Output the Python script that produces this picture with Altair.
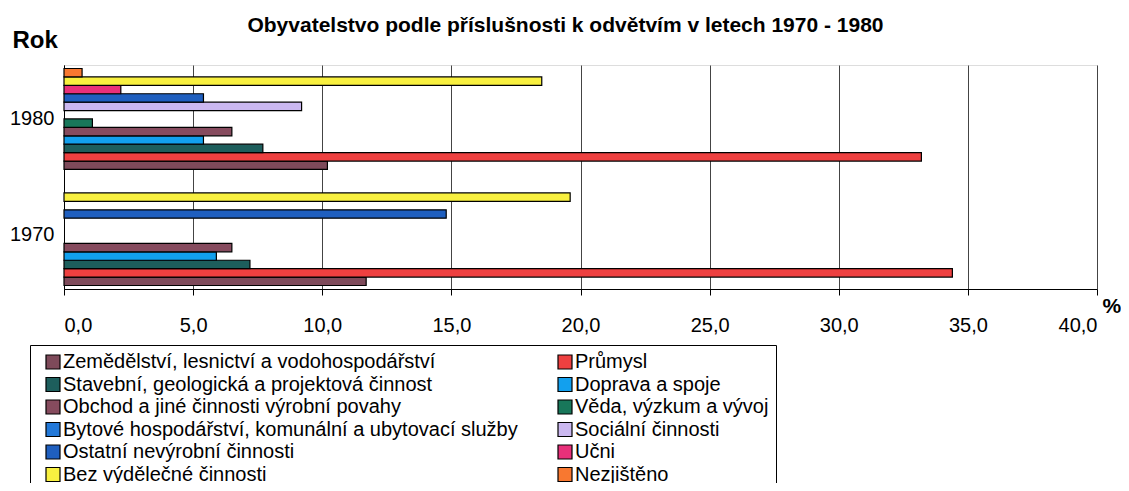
import altair as alt
import pandas as pd

kategorie = [
    "Zemědělství, lesnictví a vodohospodářství",
    "Průmysl",
    "Stavební, geologická a projektová činnost",
    "Doprava a spoje",
    "Obchod a jiné činnosti výrobní povahy",
    "Věda, výzkum a vývoj",
    "Bytové hospodářství, komunální a ubytovací služby",
    "Sociální činnosti",
    "Ostatní nevýrobní činnosti",
    "Učni",
    "Bez výdělečné činnosti",
    "Nezjištěno",
]
barvy = [
    "#7E4A5A", "#EE4040", "#1D5E5C", "#12A0EE", "#864B5E", "#18775A",
    "#2278D8", "#CBB8F0", "#1F5FBF", "#E8307A", "#F8F040", "#F87830",
]
roky = ["1980", "1970"]
hodnoty_1970 = [11.7, 34.4, 7.2, 5.9, 6.5, None, None, None, 14.8, None, 19.6, None]
hodnoty_1980 = [10.2, 33.2, 7.7, 5.4, 6.5, 1.1, None, 9.2, 5.4, 2.2, 18.5, 0.7]
x_ticks = [0, 5, 10, 15, 20, 25, 30, 35, 40]

rows = []
for rok, vals in (("1970", hodnoty_1970), ("1980", hodnoty_1980)):
    for k, v in zip(kategorie, vals):
        if v is not None:
            rows.append({"Rok": rok, "kategorie": k, "hodnota": v})
df = pd.DataFrame(rows)

# legend fills column by column: left column = even entries, right = odd
legend_order = kategorie[0::2] + kategorie[1::2]
legend_colors = barvy[0::2] + barvy[1::2]

FONT = "Liberation Sans"

chart = (
    alt.Chart(df)
    .mark_bar(stroke="black", strokeWidth=1.2, opacity=1)
    .encode(
        x=alt.X(
            "hodnota:Q",
            scale=alt.Scale(domain=[0, 40], nice=False),
            axis=alt.Axis(
                values=x_ticks,
                labelExpr="replace(format(datum.value, '.1f'), '.', ',')",
                title="%",
                titleX=1038,
                titleY=23,
                titleAlign="left",
                titleBaseline="alphabetic",
                titleFontSize=21,
                titleFont=FONT,
                titleFontWeight="bold",
                titleColor="black",
                labelFontSize=20,
                labelFont=FONT,
                labelColor="black",
                labelPadding=20,
                tickSize=6,
                tickColor="black",
                domainColor="black",
                grid=True,
                gridColor="#444444",
                gridWidth=1,
            ),
        ),
        y=alt.Y(
            "Rok:N",
            sort=roky,
            scale=alt.Scale(domain=roky, paddingInner=0.13, paddingOuter=0.03),
            axis=alt.Axis(
                title="Rok",
                titleAngle=0,
                titleX=-52,
                titleY=-18,
                titleAlign="left",
                titleBaseline="alphabetic",
                titleFontSize=24,
                titleFont=FONT,
                titleFontWeight="bold",
                titleColor="black",
                labelFontSize=20,
                labelFont=FONT,
                labelColor="black",
                labelPadding=10,
                ticks=False,
                domainColor="black",
                grid=False,
            ),
        ),
        yOffset=alt.YOffset(
            "kategorie:N",
            scale=alt.Scale(domain=kategorie[::-1], paddingInner=0, paddingOuter=0),
        ),
        fill=alt.Fill(
            "kategorie:N",
            scale=alt.Scale(domain=legend_order, range=legend_colors),
            legend=alt.Legend(
                title=None,
                orient="none",
                legendX=-34,
                legendY=280,
                columns=2,
                strokeColor="black",
                padding=7,
                symbolOffset=6,
                symbolType="square",
                symbolSize=196,
                symbolStrokeColor="black",
                symbolStrokeWidth=1.2,
                symbolOpacity=1,
                labelFontSize=20,
                labelFont=FONT,
                labelColor="black",
                labelOffset=0,
                labelLimit=0,
                rowPadding=2.5,
                columnPadding=31,
            ),
        ),
    )
    .properties(
        width=1033,
        height=224,
        title=alt.Title(
            "Obyvatelstvo podle příslušnosti k odvětvím v letech 1970 - 1980",
            fontSize=21,
            font=FONT,
            fontWeight="bold",
            color="black",
            anchor="middle",
            dx=-15,
            dy=12,
        ),
        padding={"left": 56, "top": 57, "right": 24, "bottom": 194},
        autosize=alt.AutoSizeParams(type="none"),
    )
    .configure_view(stroke=None)
    .configure(background="white")
)

chart.save("out.html", embed_options={"renderer": "svg", "actions": False})
